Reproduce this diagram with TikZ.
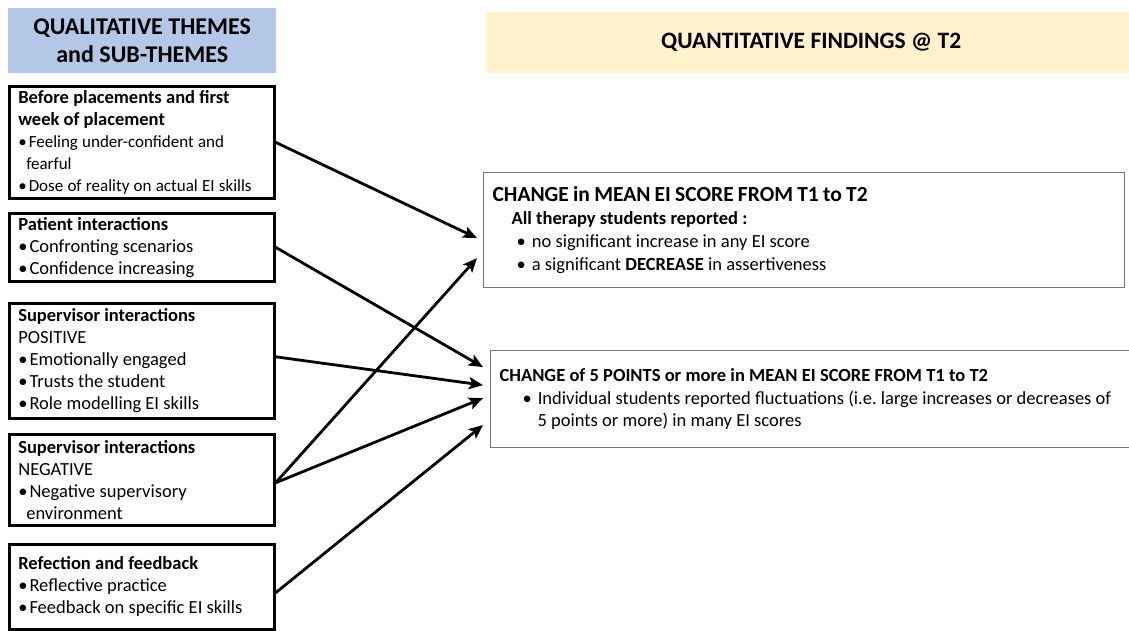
\documentclass[tikz,border=0pt]{standalone}
\usepackage{fontspec}
\setmainfont{Carlito}
\usetikzlibrary{positioning,calc,arrows.meta}
\tikzset{>={Stealth[length=14pt,width=12pt,inset=3pt]}}
\definecolor{qualblue}{RGB}{180,199,231}
\definecolor{quanyellow}{RGB}{255,242,204}
\definecolor{boxgray}{RGB}{118,118,118}
\tikzset{
  every node/.append style={execute at begin node={\frenchspacing\spaceskip=0.23em plus 0.05em\relax}},
  headbox/.style={anchor=north west,inner sep=0pt,align=center,font=\fontsize{24}{28.5}\selectfont\bfseries},
  lbox/.style={draw,line width=2.6pt,anchor=north west,minimum width=265pt,text width=247pt,
    inner xsep=9pt,inner ysep=1pt,align=left,font=\fontsize{18.5}{22}\selectfont},
  rbox/.style={draw=boxgray,line width=1.2pt,anchor=north west,inner xsep=9pt,inner ysep=1pt,
    align=left,font=\fontsize{18.5}{23}\selectfont},
  link/.style={->,line width=2.8pt},
}
\newcommand{\bul}{\textbullet\hspace{2pt}}
\begin{document}
\begin{tikzpicture}[x=1pt,y=-1pt]
\useasboundingbox (0,0) rectangle (1129,631);
% headings
\node[headbox,fill=qualblue,minimum width=268pt,minimum height=65pt] (qual) at (8,8)
  {QUALITATIVE THEMES\\and SUB-THEMES};
\node[headbox,fill=quanyellow,minimum width=650pt,minimum height=61pt,
  font=\fontsize{23.5}{28}\selectfont\bfseries] (quan) at (486,12) {QUANTITATIVE FINDINGS @ T2};

% qualitative themes
\node[lbox,minimum height=112pt] (b1) at (8,85)
  {\textbf{Before placements and first}\\\textbf{week of placement}\\
   {\fontsize{17}{22}\selectfont\bul Feeling under-confident and}\\
   {\fontsize{17}{22}\selectfont\hspace*{8pt}fearful}\\
   {\fontsize{17}{22}\selectfont\bul Dose of reality on actual EI skills}};
\node[lbox,minimum height=68pt] (b2) at (8,212)
  {\textbf{Patient interactions}\\
   \bul Confronting scenarios\\
   \bul Confidence increasing};
\node[lbox,minimum height=115pt] (b3) at (8,302)
  {\textbf{Supervisor interactions}\\
   POSITIVE\\
   \bul Emotionally engaged\\
   \bul Trusts the student\\
   \bul Role modelling EI skills};
\node[lbox,minimum height=91pt] (b4) at (8,433)
  {\textbf{Supervisor interactions}\\
   NEGATIVE\\
   \bul Negative supervisory\\\hspace*{8pt}environment};
\node[lbox,minimum height=85pt] (b5) at (8,543)
  {\textbf{Refection and feedback}\\
   \bul Reflective practice\\
   \bul Feedback on specific EI skills};

% quantitative findings
\node[rbox,minimum width=641pt,text width=623pt,minimum height=115pt] (r1) at (483,172)
  {{\fontsize{21.5}{23}\selectfont\bfseries CHANGE in MEAN EI SCORE FROM T1 to T2}\\
   \hspace*{19pt}\textbf{All therapy students reported :}\\
   \hspace*{24pt}\textbullet\hspace{6pt}no significant increase in any EI score\\
   \hspace*{24pt}\textbullet\hspace{6pt}a significant \textbf{DECREASE} in assertiveness};
\node[rbox,minimum width=660pt,text width=642pt,minimum height=97pt,
  font=\fontsize{18.5}{22.5}\selectfont] (r2) at (490,350)
  {\textbf{CHANGE of 5 POINTS or more in MEAN EI SCORE FROM T1 to T2}\\
   \hspace*{23pt}\textbullet\hspace{6pt}Individual students reported fluctuations (i.e. large increases or decreases of\\
   \hspace*{38pt}5 points or more) in many EI scores};

% links
\draw[link] (b1.east) -- ($(r1.west)+(-6,8)$);
\draw[link] (b2.east) -- ($(r2.west)+(-7,-32)$);
\draw[link] ([yshift=4pt]b3.east) -- ($(r2.west)+(-7,-14)$);
\draw[link] ([yshift=-3pt]b4.east) -- ($(r1.west)+(-6,28)$);
\draw[link] ([yshift=-3pt]b4.east) -- ($(r2.west)+(-7,-1)$);
\draw[link] ([yshift=-6pt]b5.east) -- ($(r2.west)+(-7,26)$);
\end{tikzpicture}
\end{document}
